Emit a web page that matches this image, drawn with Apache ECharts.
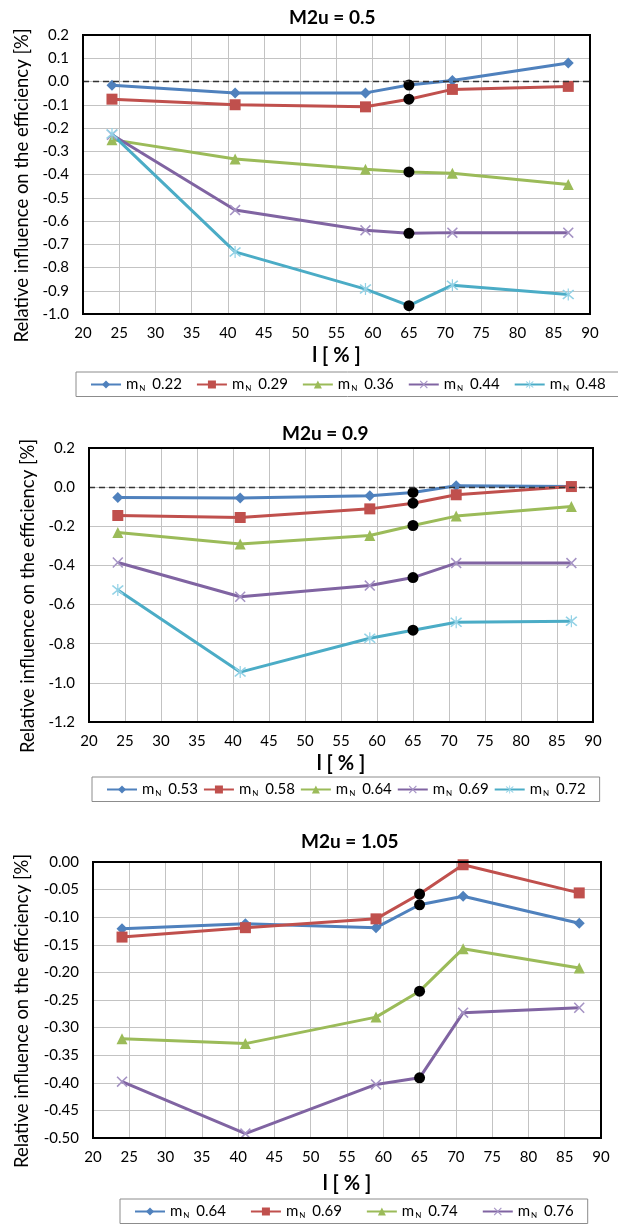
<!DOCTYPE html>
<html>
<head>
<meta charset="utf-8">
<script src="https://cdn.jsdelivr.net/npm/echarts@6/dist/echarts.min.js"></script>
<style>
  html, body { margin: 0; padding: 0; background: #fff; }
  #c1, #c2, #c3 { position: absolute; left: 0; width: 618px; }
  #c1 { top: 0; height: 405px; }
  #c2 { top: 405px; height: 410px; }
  #c3 { top: 815px; height: 412px; }
</style>
</head>
<body>
<div id="c1"></div>
<div id="c2"></div>
<div id="c3"></div>
<script>
// ---- data ----
const xValues = [24, 41, 59, 65, 71, 87];
const designIndex = 3; // black dot at l = 65 %

// Chart 1: M2u = 0.5
const title1 = 'M2u = 0.5';
const mN1 = ['0.22', '0.29', '0.36', '0.44', '0.48'];
const c1_022 = [-0.016, -0.049, -0.049, -0.015, 0.004, 0.080];
const c1_029 = [-0.076, -0.100, -0.109, -0.076, -0.034, -0.021];
const c1_036 = [-0.250, -0.333, -0.377, -0.389, -0.395, -0.443];
const c1_044 = [-0.229, -0.553, -0.640, -0.653, -0.650, -0.650];
const c1_048 = [-0.226, -0.733, -0.893, -0.964, -0.876, -0.916];

// Chart 2: M2u = 0.9
const title2 = 'M2u = 0.9';
const mN2 = ['0.53', '0.58', '0.64', '0.69', '0.72'];
const c2_053 = [-0.053, -0.055, -0.044, -0.027, 0.007, 0.003];
const c2_058 = [-0.145, -0.155, -0.111, -0.082, -0.039, 0.003];
const c2_064 = [-0.232, -0.291, -0.247, -0.196, -0.148, -0.099];
const c2_069 = [-0.385, -0.560, -0.503, -0.462, -0.388, -0.388];
const c2_072 = [-0.525, -0.945, -0.772, -0.731, -0.690, -0.685];

// Chart 3: M2u = 1.05
const title3 = 'M2u = 1.05';
const mN3 = ['0.64', '0.69', '0.74', '0.76'];
const c3_064 = [-0.121, -0.112, -0.119, -0.0775, -0.062, -0.111];
const c3_069 = [-0.136, -0.119, -0.103, -0.058, -0.005, -0.056];
const c3_074 = [-0.320, -0.329, -0.281, -0.234, -0.157, -0.192];
const c3_076 = [-0.398, -0.492, -0.403, -0.391, -0.273, -0.264];

const xTicks = { min: 20, max: 90, interval: 5 };
const yAxisTitle = 'Relative influence on the efficiency [%]';
const xAxisTitle = 'l [ % ]';

// ---- styles ----
const FONT = 'Lato, "Open Sans", sans-serif';
const colors = ['#4F81BD', '#C0504D', '#9BBB59', '#8064A2', '#4BACC6'];
const xPath = 'path://M1,0 L5,4 L9,0 L10,1 L6,5 L10,9 L9,10 L5,6 L1,10 L0,9 L4,5 L0,1 Z';
const starPath = 'path://M1,0 L5,4 L9,0 L10,1 L6,5 L10,9 L9,10 L5,6 L1,10 L0,9 L4,5 L0,1 Z M4.5,-1 L5.5,-1 L5.5,11 L4.5,11 Z';
const markers = [
  { symbol: 'diamond', size: 11 },
  { symbol: 'rect', size: 11 },
  { symbol: 'triangle', size: 11 },
  { symbol: xPath, size: 11 },
  { symbol: starPath, size: 12 }
];
const markerColors = ['#4F81BD', '#C0504D', '#9BBB59', '#A593C4', '#93D2E6'];

function makeSeries(name, values, idx, zeroLine) {
  const s = {
    name: name,
    type: 'line',
    symbol: markers[idx].symbol,
    symbolSize: markers[idx].size,
    lineStyle: { width: 3, color: colors[idx] },
    itemStyle: { color: markerColors[idx] },
    z: 3,
    data: xValues.map((x, i) => i === designIndex
      ? { value: [x, values[i]], symbol: 'circle', symbolSize: 11, itemStyle: { color: '#000' }, z: 5 }
      : [x, values[i]])
  };
  if (zeroLine) {
    s.markLine = {
      silent: true, symbol: 'none', label: { show: false },
      lineStyle: { type: [6, 4], color: '#333', width: 1.3 },
      data: [{ yAxis: 0 }]
    };
  }
  return s;
}

function build(el, cfg) {
  const chart = echarts.init(document.getElementById(el), null, { renderer: 'canvas' });
  const series = cfg.values.map((v, i) => makeSeries(cfg.names[i], v, i, cfg.zeroLine && i === 0));
  chart.setOption({
    animation: false,
    textStyle: { fontFamily: FONT },
    title: {
      text: cfg.title, left: cfg.titleLeft, top: cfg.titleTop,
      textStyle: { fontFamily: FONT, fontSize: 19, fontWeight: 'bold', color: '#000' }
    },
    grid: {
      left: cfg.grid[0], top: cfg.grid[1], width: cfg.grid[2], height: cfg.grid[3],
      show: true, borderColor: '#000', borderWidth: 2, backgroundColor: 'transparent', z: 10
    },
    legend: {
      left: cfg.legendLeft, top: cfg.legendTop, width: 600,
      borderColor: '#8c8c8c', borderWidth: 1, borderRadius: 0,
      padding: [5, 14, 4, 14], itemGap: cfg.legendGap, itemWidth: 30, itemHeight: 10,
      data: cfg.names,
      formatter: name => '{m|m}{n|N}{v| ' + name.replace('mN ', '') + '}',
      textStyle: {
        fontFamily: FONT, color: '#000',
        rich: {
          m: { fontSize: 15, fontFamily: FONT, color: '#000' },
          n: { fontSize: 8, fontFamily: FONT, color: '#000', padding: [8, 0, 0, 1] },
          v: { fontSize: 15, fontFamily: FONT, color: '#000', padding: [0, 0, 0, 3] }
        }
      }
    },
    xAxis: {
      type: 'value', min: xTicks.min, max: xTicks.max, interval: xTicks.interval,
      name: xAxisTitle, nameLocation: 'middle', nameGap: cfg.xNameGap,
      nameTextStyle: { fontFamily: FONT, fontSize: 20, fontWeight: 'bold', color: '#000' },
      axisLine: { show: false }, axisTick: { show: false },
      axisLabel: { fontFamily: FONT, fontSize: 15, color: '#000', margin: 12 },
      splitLine: { show: true, lineStyle: { color: '#c3c3c3', width: 1 } }
    },
    yAxis: {
      type: 'value', min: cfg.yMin, max: cfg.yMax, interval: cfg.yInterval,
      name: yAxisTitle, nameLocation: 'middle', nameGap: cfg.yNameGap, nameRotate: 90,
      nameTextStyle: { fontFamily: FONT, fontSize: 18.5, color: '#000', padding: [0, 22, 0, 0] },
      axisLine: { show: false }, axisTick: { show: false },
      axisLabel: { fontFamily: FONT, fontSize: 15, color: '#000', margin: 14,
        formatter: v => v.toFixed(cfg.decimals) },
      splitLine: { show: true, lineStyle: { color: '#c3c3c3', width: 1 } }
    },
    series: series
  });
}

build('c1', {
  title: title1, titleLeft: 284, titleTop: 3,
  names: mN1.map(v => 'mN ' + v),
  values: [c1_022, c1_029, c1_036, c1_044, c1_048],
  grid: [83, 35, 507, 279],
  yMin: -1.0, yMax: 0.2, yInterval: 0.1, decimals: 1,
  xNameGap: 32, yNameGap: 48, zeroLine: true,
  legendLeft: 76, legendTop: 372, legendGap: 14
});
build('c2', {
  title: title2, titleLeft: 277, titleTop: 14,
  names: mN2.map(v => 'mN ' + v),
  values: [c2_053, c2_058, c2_064, c2_069, c2_072],
  grid: [89, 43, 504, 274],
  yMin: -1.2, yMax: 0.2, yInterval: 0.2, decimals: 1,
  xNameGap: 30, yNameGap: 50, zeroLine: true,
  legendLeft: 92, legendTop: 372, legendGap: 5
});
build('c3', {
  title: title3, titleLeft: 296, titleTop: 12,
  names: mN3.map(v => 'mN ' + v),
  values: [c3_064, c3_069, c3_074, c3_076],
  grid: [93, 47, 508, 276],
  yMin: -0.5, yMax: 0.0, yInterval: 0.05, decimals: 2,
  xNameGap: 36, yNameGap: 61, zeroLine: false,
  legendLeft: 120, legendTop: 384, legendGap: 24
});
</script>
</body>
</html>
